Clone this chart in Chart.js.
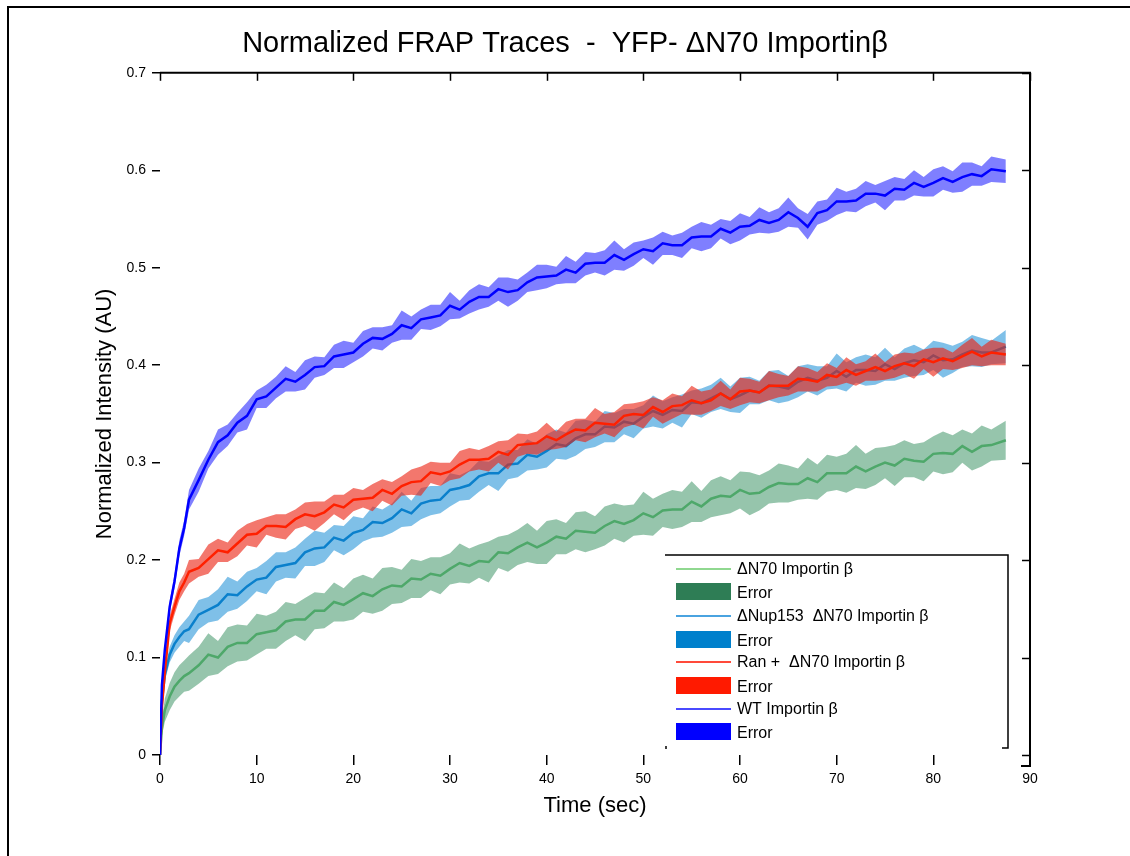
<!DOCTYPE html>
<html>
<head>
<meta charset="utf-8">
<script src="https://cdn.jsdelivr.net/npm/chart.js@4.4.1/dist/chart.umd.min.js"></script>
<style>
  html, body { margin: 0; padding: 0; background: #fff; }
  #wrap { position: relative; width: 1130px; height: 856px; overflow: hidden; }
  #frame { position: absolute; left: 7px; top: 6px; width: 1200px; height: 900px;
           border-left: 2px solid #000; border-top: 2px solid #000; pointer-events: none; }
</style>
</head>
<body>
<div id="wrap">
  <canvas id="frapChart" width="1130" height="856"></canvas>
  <div id="frame"></div>
</div>
<script>
// time points (sec)
const timeSec = [0, 0.2, 0.5, 1, 1.5, 2, 2.5,
  3, 4, 5, 6, 7, 8, 9, 10, 11, 12, 13, 14, 15, 16, 17, 18, 19, 20, 21, 22, 23, 24, 25, 26, 27, 28, 29, 30,
  31, 32, 33, 34, 35, 36, 37, 38, 39, 40, 41, 42, 43, 44, 45, 46, 47, 48, 49, 50, 51, 52, 53, 54, 55, 56, 57, 58, 59, 60,
  61, 62, 63, 64, 65, 66, 67, 68, 69, 70, 71, 72, 73, 74, 75, 76, 77, 78, 79, 80, 81, 82, 83, 84, 85, 86, 87.5];

// WT Importin beta
const wtMean = [0, 0.072, 0.108, 0.152, 0.178, 0.212, 0.233,
  0.262, 0.282, 0.303, 0.321, 0.328, 0.341, 0.348, 0.365, 0.368, 0.377,
  0.386, 0.383, 0.39, 0.398, 0.399, 0.409, 0.411, 0.413, 0.422, 0.428,
  0.427, 0.432, 0.441, 0.438, 0.447, 0.449, 0.451, 0.461, 0.457, 0.465,
  0.47, 0.47, 0.478, 0.475, 0.477, 0.485, 0.49, 0.491, 0.492, 0.498,
  0.495, 0.504, 0.505, 0.505, 0.513, 0.508, 0.514, 0.519, 0.517, 0.525,
  0.523, 0.523, 0.531, 0.532, 0.532, 0.54, 0.536, 0.542, 0.543, 0.549,
  0.546, 0.549, 0.557, 0.551, 0.542, 0.556, 0.559, 0.568, 0.568, 0.569,
  0.576, 0.576, 0.574, 0.581, 0.58, 0.587, 0.583, 0.587, 0.592, 0.588,
  0.593, 0.596, 0.594, 0.601, 0.599];
const wtErr = [0, 0.003, 0.005, 0.006, 0.007, 0.008, 0.008,
  0.010, 0.012, 0.009, 0.013, 0.011, 0.010, 0.014, 0.009, 0.012, 0.011,
  0.013, 0.010, 0.015, 0.011, 0.009, 0.012, 0.014, 0.010, 0.013, 0.011,
  0.012, 0.009, 0.015, 0.012, 0.010, 0.013, 0.011, 0.014, 0.009, 0.012,
  0.013, 0.010, 0.012, 0.015, 0.011, 0.010, 0.013, 0.012, 0.009, 0.014,
  0.011, 0.012, 0.010, 0.013, 0.015, 0.011, 0.012, 0.009, 0.014, 0.012,
  0.010, 0.013, 0.011, 0.015, 0.012, 0.010, 0.012, 0.014, 0.009, 0.013,
  0.011, 0.012, 0.015, 0.010, 0.013, 0.012, 0.011, 0.014, 0.010, 0.012,
  0.013, 0.009, 0.015, 0.012, 0.011, 0.013, 0.010, 0.014, 0.012, 0.011,
  0.015, 0.012, 0.010, 0.013, 0.012];

// Ran + dN70 Importin beta
const ranMean = [0, 0.05, 0.085, 0.135, 0.152, 0.168, 0.177,
  0.188, 0.192, 0.201, 0.21, 0.208, 0.217, 0.226, 0.227, 0.235, 0.235,
  0.234, 0.242, 0.247, 0.245, 0.249, 0.257, 0.254, 0.262, 0.263, 0.264,
  0.272, 0.268, 0.276, 0.28, 0.281, 0.29, 0.288, 0.291, 0.298, 0.303,
  0.303, 0.304, 0.311, 0.308, 0.318, 0.319, 0.32, 0.327, 0.323, 0.329,
  0.334, 0.333, 0.341, 0.34, 0.339, 0.348, 0.35, 0.349, 0.357, 0.352,
  0.358, 0.359, 0.364, 0.361, 0.364, 0.371, 0.365, 0.373, 0.374, 0.372,
  0.379, 0.379, 0.379, 0.386, 0.385, 0.383, 0.39, 0.388, 0.395, 0.39,
  0.394, 0.398, 0.394, 0.399, 0.402, 0.399, 0.406, 0.403, 0.407, 0.404,
  0.409, 0.414, 0.409, 0.413, 0.411];
const ranErr = [0, 0.004, 0.006, 0.008, 0.008, 0.009, 0.009,
  0.012, 0.009, 0.015, 0.012, 0.010, 0.013, 0.011, 0.014, 0.009, 0.012,
  0.013, 0.010, 0.012, 0.015, 0.011, 0.010, 0.013, 0.012, 0.009, 0.014,
  0.011, 0.012, 0.010, 0.013, 0.015, 0.011, 0.012, 0.009, 0.014, 0.012,
  0.010, 0.013, 0.011, 0.015, 0.012, 0.010, 0.012, 0.014, 0.009, 0.013,
  0.011, 0.012, 0.015, 0.010, 0.013, 0.012, 0.011, 0.014, 0.010, 0.012,
  0.013, 0.009, 0.015, 0.012, 0.011, 0.013, 0.010, 0.014, 0.012, 0.011,
  0.015, 0.012, 0.010, 0.013, 0.012,
  0.010, 0.012, 0.009, 0.013, 0.011, 0.010, 0.014, 0.009, 0.012, 0.011,
  0.013, 0.010, 0.015, 0.011, 0.009, 0.012, 0.014, 0.010, 0.013, 0.011];

// dNup153 dN70 Importin beta
const nupMean = [0, 0.055, 0.082, 0.103, 0.114, 0.121, 0.127,
  0.129, 0.144, 0.149, 0.154, 0.165, 0.164, 0.173, 0.18, 0.182, 0.193,
  0.195, 0.197, 0.208, 0.212, 0.213, 0.223, 0.22, 0.228, 0.231, 0.239,
  0.238, 0.243, 0.252, 0.248, 0.258, 0.261, 0.262, 0.272, 0.274, 0.277,
  0.286, 0.289, 0.289, 0.298, 0.299, 0.308, 0.306, 0.312, 0.319, 0.317,
  0.325, 0.329, 0.329, 0.337, 0.336, 0.342, 0.34, 0.347, 0.353, 0.349,
  0.354, 0.353, 0.362, 0.361, 0.366, 0.371, 0.365, 0.369, 0.374, 0.372,
  0.379, 0.378, 0.376, 0.383, 0.387, 0.384, 0.387, 0.394, 0.388, 0.395,
  0.395, 0.394, 0.401, 0.396, 0.402, 0.405, 0.403, 0.41, 0.405, 0.406,
  0.411, 0.415, 0.413, 0.413, 0.419];
const nupErr = [0, 0.004, 0.006, 0.008, 0.009, 0.010, 0.010,
  0.014, 0.015, 0.013, 0.016, 0.018, 0.014, 0.015, 0.012, 0.017, 0.015,
  0.013, 0.016, 0.014, 0.018, 0.015, 0.013, 0.015, 0.017, 0.012, 0.016,
  0.014, 0.015, 0.018, 0.013, 0.016, 0.015, 0.014, 0.017, 0.013, 0.015,
  0.016, 0.012, 0.018, 0.015, 0.014, 0.016, 0.013, 0.017, 0.015, 0.014,
  0.018, 0.015, 0.013, 0.016, 0.015,
  0.013, 0.015, 0.012, 0.016, 0.014, 0.013, 0.017, 0.012, 0.015, 0.014,
  0.016, 0.013, 0.018, 0.014, 0.012, 0.015, 0.017, 0.013, 0.016, 0.014,
  0.015, 0.012, 0.018, 0.015, 0.013, 0.016, 0.014, 0.017, 0.012, 0.015,
  0.016, 0.013, 0.015, 0.018, 0.014, 0.013, 0.016, 0.015, 0.012, 0.017];

// dN70 Importin beta
const n70Mean = [0, 0.028, 0.046, 0.06, 0.07, 0.076, 0.081,
  0.084, 0.092, 0.103, 0.1, 0.111, 0.115, 0.115, 0.124, 0.126, 0.128,
  0.137, 0.139, 0.139, 0.148, 0.148, 0.157, 0.154, 0.16, 0.166, 0.163,
  0.17, 0.174, 0.173, 0.181, 0.18, 0.186, 0.184, 0.191, 0.197, 0.194,
  0.199, 0.198, 0.208, 0.207, 0.213, 0.218, 0.213, 0.218, 0.224, 0.222,
  0.23, 0.229, 0.228, 0.235, 0.24, 0.237, 0.241, 0.248, 0.244, 0.251,
  0.252, 0.252, 0.26, 0.255, 0.263, 0.266, 0.265, 0.272, 0.268, 0.269,
  0.275, 0.279, 0.278, 0.278, 0.284, 0.28, 0.289, 0.289, 0.289, 0.296,
  0.291, 0.296, 0.3, 0.297, 0.304, 0.302, 0.301, 0.309, 0.31, 0.309,
  0.317, 0.311, 0.317, 0.318, 0.323];
const n70Err = [0, 0.008, 0.012, 0.014, 0.015, 0.016, 0.016,
  0.018, 0.019, 0.022, 0.017, 0.020, 0.019, 0.018, 0.021, 0.017, 0.019,
  0.020, 0.016, 0.022, 0.019, 0.018, 0.020, 0.017, 0.021, 0.019, 0.018,
  0.022, 0.019, 0.017, 0.020, 0.019,
  0.017, 0.019, 0.016, 0.020, 0.018, 0.017, 0.021, 0.016, 0.019, 0.018,
  0.020, 0.017, 0.022, 0.018, 0.016, 0.019, 0.021, 0.017, 0.020, 0.018,
  0.019, 0.016, 0.022, 0.019, 0.017, 0.020, 0.018, 0.021, 0.016, 0.019,
  0.020, 0.017, 0.019, 0.022, 0.018, 0.017, 0.020, 0.019, 0.016, 0.021,
  0.018, 0.019, 0.017, 0.020, 0.022, 0.018, 0.019, 0.016, 0.021, 0.019,
  0.017, 0.020, 0.018, 0.022, 0.019, 0.017, 0.019, 0.021, 0.016, 0.020];

const xTicks = [0, 10, 20, 30, 40, 50, 60, 70, 80, 90];
const yTicks = [0, 0.1, 0.2, 0.3, 0.4, 0.5, 0.6, 0.7];

const legendLabels = [
  'ΔN70 Importin β', 'Error',
  'ΔNup153  ΔN70 Importin β', 'Error',
  'Ran +  ΔN70 Importin β', 'Error',
  'WT Importin β', 'Error',
];

const FONT = "'Liberation Sans', Arial, sans-serif";

function points(mean, err, sign) {
  return timeSec.map((t, i) => ({ x: t, y: mean[i] + sign * err[i] }));
}

// mean trace + shaded error band (upper fills down to lower)
function seriesSets(name, mean, err, lineColor, bandColor, order) {
  return [
    { label: name, data: points(mean, err, 0), borderColor: lineColor, borderWidth: 2.5, fill: false, order: order },
    { label: name + ' +err', data: points(mean, err, 1), borderColor: 'transparent', borderWidth: 0,
      backgroundColor: bandColor, fill: '+1', order: order + 1 },
    { label: name + ' -err', data: points(mean, err, -1), borderColor: 'transparent', borderWidth: 0,
      fill: false, order: order + 1 },
  ];
}

const datasets = [
  ...seriesSets('WT Importin β', wtMean, wtErr, '#0000ff', 'rgba(0,0,255,0.5)', 1),
  ...seriesSets('Ran + ΔN70 Importin β', ranMean, ranErr, '#ff2000', 'rgba(235,35,20,0.62)', 3),
  ...seriesSets('ΔNup153 ΔN70 Importin β', nupMean, nupErr, '#0a80cc', 'rgba(0,130,210,0.5)', 5),
  ...seriesSets('ΔN70 Importin β', n70Mean, n70Err, '#4ea86a', 'rgba(46,140,90,0.5)', 7),
];

// top/right axis lines with inward ticks, plus the boxed legend
const frameAndLegend = {
  id: 'frameAndLegend',
  afterDraw(chart) {
    const ctx = chart.ctx;
    const { left, right, top, bottom } = chart.chartArea;
    const xs = chart.scales.x;
    const ys = chart.scales.y;
    ctx.save();
    ctx.strokeStyle = '#000';
    ctx.lineWidth = 2;
    ctx.beginPath();
    ctx.moveTo(left, top);
    ctx.lineTo(right, top);
    ctx.lineTo(right, bottom + 11);
    ctx.lineTo(right - 9, bottom + 11);
    ctx.stroke();

    ctx.lineWidth = 1.5;
    xTicks.forEach((v) => {
      const px = Math.round(xs.getPixelForValue(v)) + 0.5;
      ctx.beginPath();
      ctx.moveTo(px, top);
      ctx.lineTo(px, top + 8);
      ctx.stroke();
    });
    yTicks.forEach((v) => {
      const py = Math.round(ys.getPixelForValue(v)) + 0.5;
      ctx.beginPath();
      ctx.moveTo(right, py);
      ctx.lineTo(right - 8, py);
      ctx.stroke();
    });

    // legend box
    const bx = 665, by = 555, bw = 343, bh = 193;
    ctx.fillStyle = '#fff';
    ctx.fillRect(bx, by, bw, bh);
    ctx.lineWidth = 1.5;
    ctx.beginPath();
    ctx.moveTo(bx, by);
    ctx.lineTo(bx + bw, by);
    ctx.lineTo(bx + bw, by + bh);
    ctx.lineTo(bx + bw - 6, by + bh);
    ctx.stroke();
    ctx.beginPath();
    ctx.moveTo(bx + 1, by + bh - 2);
    ctx.lineTo(bx + 1, by + bh + 1);
    ctx.stroke();

    const swatch = [
      { kind: 'line', color: '#90d890' }, { kind: 'box', color: '#2e7d55' },
      { kind: 'line', color: '#4aa3e0' }, { kind: 'box', color: '#0080cc' },
      { kind: 'line', color: '#ff4a3a' }, { kind: 'box', color: '#ff1a00' },
      { kind: 'line', color: '#4a4aff' }, { kind: 'box', color: '#0000ff' },
    ];
    const rowY = [569, 592, 616, 640, 662, 686, 709, 732];
    ctx.font = '16px ' + FONT;
    ctx.textBaseline = 'middle';
    ctx.textAlign = 'left';
    legendLabels.forEach((label, i) => {
      const s = swatch[i];
      const y = rowY[i];
      if (s.kind === 'line') {
        ctx.strokeStyle = s.color;
        ctx.lineWidth = 2;
        ctx.beginPath();
        ctx.moveTo(676, y);
        ctx.lineTo(731, y);
        ctx.stroke();
      } else {
        ctx.fillStyle = s.color;
        ctx.fillRect(676, y - 9, 55, 17);
      }
      ctx.fillStyle = '#000';
      ctx.fillText(label, 737, s.kind === 'box' ? y + 2 : y + 1);
    });
    ctx.restore();
  },
};

const ctx = document.getElementById('frapChart');
const frapChart = new Chart(ctx, {
  type: 'line',
  data: { datasets: datasets },
  options: {
    responsive: false,
    animation: false,
    devicePixelRatio: 1,
    layout: { padding: 0 },
    elements: { point: { radius: 0 }, line: { tension: 0 } },
    plugins: {
      legend: { display: false },
      tooltip: { enabled: false },
      title: {
        display: true,
        text: 'Normalized FRAP Traces  -  YFP- ΔN70 Importinβ',
        color: '#000',
        font: { family: FONT, size: 29, weight: 'normal' },
        padding: { top: 27, bottom: 11 },
      },
    },
    scales: {
      x: {
        type: 'linear',
        min: 0,
        max: 90,
        afterFit(scale) { scale.height = 101; },
        border: { display: false },
        grid: { drawOnChartArea: false, drawTicks: true, tickLength: 10, color: '#000', lineWidth: 1.5 },
        ticks: { stepSize: 10, color: '#000', padding: 6, font: { family: FONT, size: 14 } },
        title: {
          display: true,
          text: 'Time (sec)',
          color: '#000',
          font: { family: FONT, size: 22 },
          padding: { top: 0, bottom: 37 },
        },
      },
      y: {
        min: 0,
        max: 0.7,
        afterFit(scale) { scale.width = 160; },
        border: { display: false },
        grid: { drawOnChartArea: false, drawTicks: true, tickLength: 8, color: '#000', lineWidth: 1.5 },
        ticks: { stepSize: 0.1, color: '#000', padding: 6, font: { family: FONT, size: 14 } },
        title: {
          display: true,
          text: 'Normalized Intensity (AU)',
          color: '#000',
          font: { family: FONT, size: 22 },
          padding: { top: 92, bottom: 0 },
        },
      },
      // empty right-hand axis that only reserves the margin
      yRight: {
        position: 'right',
        min: 0,
        max: 0.7,
        afterFit(scale) { scale.width = 100; },
        border: { display: false },
        grid: { display: false },
        ticks: { display: false },
      },
    },
  },
  plugins: [frameAndLegend],
});
</script>
</body>
</html>
